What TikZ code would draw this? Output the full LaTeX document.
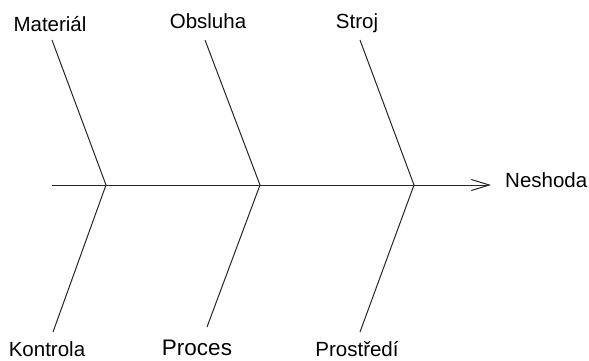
\documentclass[tikz,border=0pt]{standalone}
\usepackage{fontspec}
\setmainfont{Liberation Sans}
\usetikzlibrary{arrows.meta}
\begin{document}
\begin{tikzpicture}[x=1pt,y=-1pt,
  bone/.style={draw=black!85,line width=1pt},
  lbl/.style={inner sep=0pt,anchor=base,font=\fontsize{20.5}{24}\selectfont},
  biglbl/.style={inner sep=0pt,anchor=base,font=\fontsize{22.5}{26}\selectfont}]
\useasboundingbox (0,0) rectangle (589,360);
% joints on spine
\coordinate (tail) at (52,185);
\coordinate (j1) at (106,185);
\coordinate (j2) at (260,185);
\coordinate (j3) at (414,185);
\coordinate (head) at (491,185);
% branch ends
\coordinate (t1) at (52,40);
\coordinate (t2) at (205,40);
\coordinate (t3) at (360,40);
\coordinate (b1) at (53,332);
\coordinate (b2) at (207,327);
\coordinate (b3) at (360,332);
% labels
\node[lbl] (mat) at (50,31.5) {Materiál};
\node[lbl] (obs) at (208,28.5) {Obsluha};
\node[lbl] (str) at (357,28.5) {Stroj};
\node[lbl] (kon) at (47,356) {Kontrola};
\node[biglbl] (pro) at (197,355) {Proces};
\node[lbl] (prs) at (357,356.5) {Prostředí};
\node[lbl,anchor=base west] (nes) at (505,187) {Neshoda};
% spine
\draw[bone,-{Straight Barb[length=18pt,width=11pt,line width=1pt]}] (tail) -- (head);
% branches
\draw[bone] (t1) -- (j1) -- (b1);
\draw[bone] (t2) -- (j2) -- (b2);
\draw[bone] (t3) -- (j3) -- (b3);
\end{tikzpicture}
\end{document}
